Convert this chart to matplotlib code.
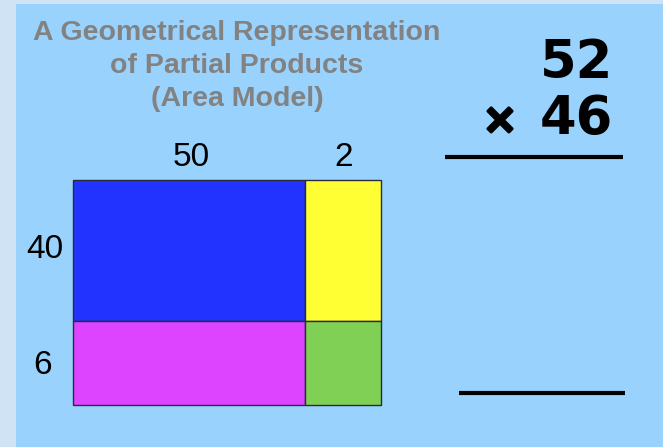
import matplotlib
matplotlib.use("Agg")
import matplotlib.pyplot as plt
import matplotlib.patheffects as pe
from matplotlib.patches import Rectangle

# factors of the area model
col_labels = ["50", "2"]
row_labels = ["40", "6"]
top_num = "52"
bottom_num = "46"
title_lines = ["A Geometrical Representation", "of Partial Products", "(Area Model)"]
cell_colors = [["#2233ff", "#ffff33"],
               ["#dd44ff", "#80d055"]]

# layout (pixel units of the slide)
col_w = [232, 76]
row_h = [141, 84]
x0, y0 = 73, 180

fig = plt.figure(figsize=(6.63, 4.47), dpi=100)
fig.patch.set_facecolor("#cfe3f5")
ax = fig.add_axes([0, 0, 1, 1])
ax.set_xlim(0, 663)
ax.set_ylim(447, 0)
ax.axis("off")

# slide panel
ax.add_patch(Rectangle((16, 4), 700, 500, facecolor="#99d3fd", edgecolor="none"))

# title
for i, t in enumerate(title_lines):
    ax.text(237, 33 + i * 33, t, ha="center", va="center", fontsize=20.5,
            fontweight="bold", color="#828282", family="Liberation Sans")

# area model cells
y = y0
for r in range(2):
    x = x0
    for c in range(2):
        ax.add_patch(Rectangle((x, y), col_w[c], row_h[r], facecolor=cell_colors[r][c],
                               edgecolor="#2a2a3a", linewidth=1.0))
        x += col_w[c]
    y += row_h[r]

# column and row labels
x = x0
for c in range(2):
    ax.text(x + col_w[c] / 2 + (2 if c == 0 else 1), 158, col_labels[c], ha="center",
            va="center", fontsize=24, family="Liberation Sans", color="black")
    x += col_w[c]
y = y0
for r in range(2):
    ax.text(45 if r == 0 else 43, y + (70 if r == 0 else 45), row_labels[r], ha="center",
            va="center", fontsize=24, family="Liberation Sans", color="black")
    y += row_h[r]

# vertical multiplication
ax.text(613, 63, top_num, ha="right", va="center", fontsize=38, fontweight="bold",
        family="DejaVu Sans", color="black")
ax.text(613, 119, bottom_num, ha="right", va="center", fontsize=38, fontweight="bold",
        family="DejaVu Sans", color="black")
ax.text(500, 121, "×", ha="center", va="center", fontsize=30, fontweight="bold",
        family="DejaVu Sans", color="black",
        path_effects=[pe.withStroke(linewidth=2, foreground="black")])
ax.plot([445, 623], [157, 157], color="black", linewidth=3, solid_capstyle="butt")
ax.plot([459, 625], [393, 393], color="black", linewidth=3, solid_capstyle="butt")

fig.savefig("out.png", dpi=100, facecolor=fig.get_facecolor())
